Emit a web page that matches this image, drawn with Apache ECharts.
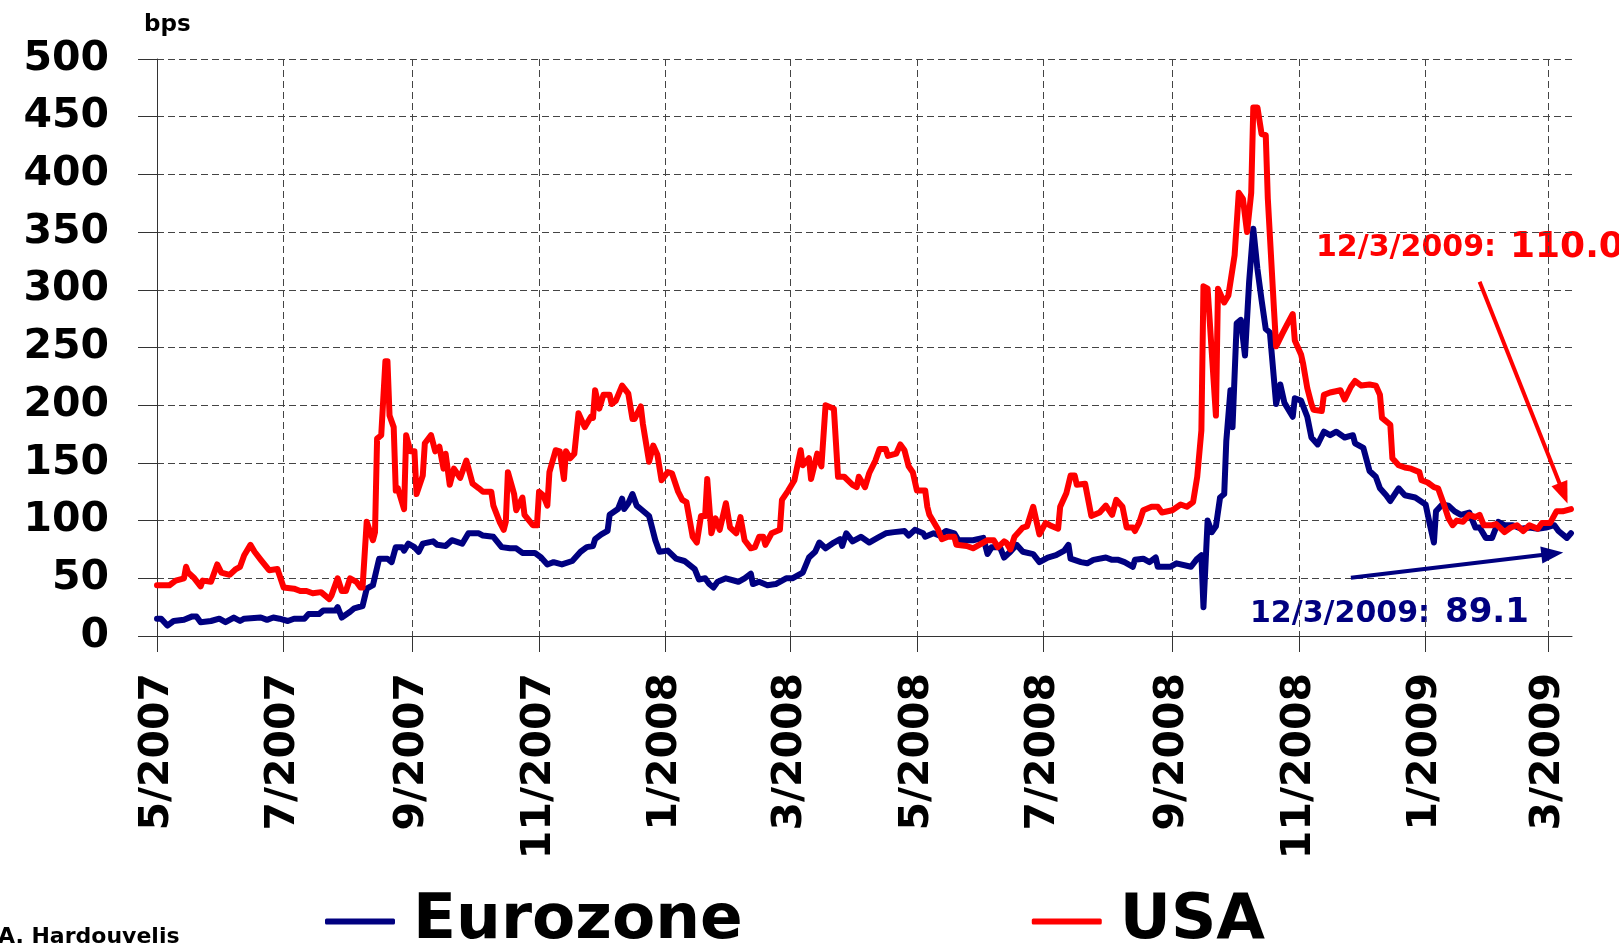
<!DOCTYPE html>
<html>
<head>
<meta charset="utf-8">
<title>Eurozone vs USA spread</title>
<script src="https://cdn.jsdelivr.net/npm/echarts/dist/echarts.min.js"></script>
<style>
  html, body { margin: 0; padding: 0; background: #fff; }
  #chart { width: 1619px; height: 943px; }
</style>
</head>
<body>
<div id="chart"></div>
<script>
// x values are days counted from 1 May 2007
const START = Date.UTC(2007, 4, 1);
const DAY = 86400000;

const tickDates = ['2007-05-01', '2007-07-01', '2007-09-01', '2007-11-01', '2008-01-01', '2008-03-01',
  '2008-05-01', '2008-07-01', '2008-09-01', '2008-11-01', '2009-01-01', '2009-03-01'];
const tickLabels = ['5/2007', '7/2007', '9/2007', '11/2007', '1/2008', '3/2008',
  '5/2008', '7/2008', '9/2008', '11/2008', '1/2009', '3/2009'];

const eurDays = [0, 2, 5, 8, 13, 17, 19, 21, 26, 30, 33, 37, 40, 42, 50, 53, 56, 59, 63, 66, 71, 73, 78, 80, 86, 87, 89, 93, 95, 99,
  101, 104, 107, 111, 113, 115, 118, 119, 121, 124, 126, 128, 133, 135, 139, 142, 147, 150, 155, 157, 162, 166, 170, 173, 176, 182, 185, 188, 191, 195,
  200, 204, 207, 210, 211, 214, 217, 218, 222, 224, 225, 227, 229, 231, 233, 237, 240, 242, 246, 250, 254, 259, 261, 264, 266, 268, 270, 274, 280, 283,
  286, 287, 290, 294, 298, 303, 306, 311, 314, 317, 319, 322, 326, 329, 330, 332, 335, 339, 343, 347, 351, 355, 360, 362, 365, 369, 370, 374, 377, 380,
  384, 386, 393, 398, 400, 402, 406, 408, 411, 414, 417, 422, 425, 429, 433, 437, 439, 440, 445, 448, 451, 457, 460, 463, 466, 470, 471, 475, 478, 481,
  482, 488, 491, 498, 501, 503, 504, 506, 508, 510, 512, 514, 515, 517, 518, 520, 522, 524, 526, 528, 530, 532, 534, 536, 539, 541, 543, 547, 548, 551,
  554, 556, 559, 562, 565, 568, 572, 576, 577, 581, 584, 587, 589, 592, 594, 598, 601, 606, 611, 613, 615, 616, 619, 622, 625, 628, 632, 635, 637, 640,
  643, 646, 649, 653, 657, 661, 665, 669, 673, 675, 679, 681];
const eurValues = [15, 15, 9, 13, 14, 17, 17, 12, 13, 15, 12, 16, 13, 15, 16, 14, 16, 15, 13, 15, 15, 19, 19, 22, 22, 25, 16, 21, 24, 26,
  41, 44, 67, 67, 64, 77, 77, 74, 80, 77, 73, 80, 82, 79, 78, 83, 80, 89, 89, 87, 86, 77, 76, 76, 72, 72, 68, 62, 64, 62,
  65, 73, 77, 78, 84, 88, 91, 105, 110, 119, 110, 115, 123, 113, 110, 104, 83, 73, 74, 67, 65, 58, 49, 50, 45, 42, 47, 50, 47, 50,
  54, 45, 47, 44, 45, 50, 50, 55, 68, 73, 81, 76, 81, 84, 78, 89, 82, 86, 81, 85, 89, 90, 91, 87, 92, 89, 86, 89, 87, 91,
  89, 83, 83, 85, 71, 77, 77, 68, 73, 79, 73, 71, 64, 68, 70, 74, 79, 67, 64, 63, 66, 68, 66, 66, 64, 60, 66, 67, 64, 68,
  60, 60, 63, 60, 67, 70, 25, 100, 90, 95, 120, 123, 169, 213, 181, 271, 274, 243, 307, 353, 318, 291, 266, 263, 201, 218, 202, 190, 206, 204,
  190, 172, 166, 177, 174, 177, 172, 174, 167, 163, 143, 138, 128, 122, 117, 128, 122, 120, 114, 97, 81, 108, 114, 113, 108, 105, 107, 94, 94, 85,
  85, 99, 96, 96, 93, 94, 93, 94, 96, 91, 85, 89.1];

const usaDays = [0, 6, 9, 13, 14, 15, 18, 21, 22, 26, 29, 31, 35, 38, 40, 42, 45, 47, 50, 54, 58, 61, 66, 69, 72, 75, 79, 83, 84, 87,
  89, 91, 93, 96, 98, 99, 101, 104, 105, 106, 108, 110, 111, 112, 114, 115, 116, 119, 120, 122, 124, 125, 128, 129, 132, 134, 136, 138, 139, 141,
  143, 146, 149, 152, 155, 157, 161, 162, 165, 167, 168, 169, 172, 173, 176, 177, 181, 183, 184, 186, 188, 189, 192, 194, 196, 197, 199, 201, 203, 206,
  209, 210, 211, 213, 215, 218, 219, 221, 224, 227, 229, 230, 233, 234, 237, 239, 241, 243, 246, 248, 251, 253, 255, 258, 260, 262, 264, 265, 267, 269,
  271, 274, 276, 279, 281, 283, 286, 288, 290, 292, 293, 296, 300, 301, 304, 307, 310, 311, 314, 315, 318, 320, 322, 326, 328, 331, 335, 337, 338, 341,
  343, 346, 348, 351, 352, 356, 358, 360, 362, 364, 366, 370, 371, 372, 376, 378, 381, 384, 385, 390, 393, 396, 400, 403, 405, 408, 409, 411, 413, 417,
  419, 422, 425, 428, 430, 434, 435, 438, 440, 442, 443, 447, 450, 454, 457, 460, 462, 465, 467, 470, 471, 473, 475, 479, 482, 484, 489, 493, 496, 499,
  501, 503, 504, 506, 510, 511, 514, 516, 519, 521, 523, 525, 527, 528, 530, 532, 534, 535, 538, 539, 542, 544, 547, 548, 551, 552, 554, 556, 557, 561,
  562, 565, 570, 572, 575, 577, 580, 584, 587, 589, 590, 594, 595, 598, 601, 604, 608, 609, 612, 615, 617, 620, 622, 624, 626, 629, 632, 635, 637, 639,
  643, 645, 649, 652, 655, 658, 661, 665, 667, 671, 674, 677, 681];
const usaValues = [44, 44, 48, 50, 60, 55, 50, 43, 48, 47, 62, 55, 53, 58, 60, 70, 79, 73, 66, 57, 58, 42, 41, 39, 39, 37, 38, 32, 35, 50,
  39, 39, 50, 47, 42, 42, 99, 83, 90, 171, 174, 238, 238, 191, 181, 126, 128, 110, 174, 160, 160, 123, 139, 167, 174, 160, 164, 145, 158, 131,
  145, 137, 152, 132, 128, 125, 125, 113, 99, 92, 99, 142, 123, 109, 120, 105, 96, 96, 125, 122, 113, 142, 161, 160, 136, 160, 154, 158, 193, 181,
  190, 189, 213, 197, 209, 209, 201, 204, 217, 210, 188, 188, 199, 184, 151, 165, 157, 135, 142, 141, 125, 118, 116, 86, 81, 104, 104, 136, 89, 102,
  92, 115, 94, 89, 103, 83, 76, 77, 86, 86, 79, 89, 92, 118, 126, 135, 161, 148, 154, 136, 158, 147, 200, 197, 138, 138, 131, 129, 138, 129,
  141, 152, 162, 162, 156, 158, 166, 161, 147, 142, 126, 126, 112, 105, 93, 84, 86, 86, 79, 78, 76, 79, 83, 83, 77, 82, 81, 75, 86, 94,
  95, 112, 88, 98, 96, 93, 112, 124, 139, 139, 131, 132, 104, 107, 113, 105, 118, 112, 94, 94, 91, 98, 109, 112, 112, 107, 109, 114, 112, 116,
  138, 178, 303, 301, 191, 301, 289, 295, 330, 384, 379, 350, 384, 458, 458, 435, 434, 379, 282, 251, 262, 269, 279, 256, 244, 236, 215, 201, 196, 195,
  209, 211, 213, 205, 216, 221, 217, 218, 217, 209, 189, 183, 154, 148, 146, 145, 142, 135, 133, 129, 128, 113, 102, 96, 100, 99, 105, 103, 105, 96,
  96, 97, 90, 94, 96, 91, 96, 93, 98, 98, 108, 108, 110.0];

const FONT = '"DejaVu Sans", Verdana, sans-serif';
const NAVY = '#000080';
const RED = '#ff0000';

const toTs = (d) => START + d * DAY;
const tickTs = tickDates.map((s) => Date.parse(s + 'T00:00:00Z'));

const pairs = (days, values) => days.map((d, i) => [toTs(d), values[i]]);

const chart = echarts.init(document.getElementById('chart'));

chart.setOption({
  animation: false,
  backgroundColor: '#fff',
  grid: { left: 157, right: 47, top: 59, bottom: 307 },
  legend: {
    left: 325,
    top: 890,
    padding: 0,
    itemGap: 289,
    itemWidth: 70,
    itemHeight: 6,
    icon: 'roundRect',
    textStyle: { fontFamily: FONT, fontWeight: 'bold', fontSize: 63, color: '#000', padding: [16, 0, 0, 13] },
    data: ['Eurozone', 'USA']
  },
  xAxis: {
    type: 'value',
    min: START,
    max: toTs(681.5),
    axisLine: { show: true, lineStyle: { color: '#333', width: 1 } },
    axisTick: { show: true, length: 16, customValues: tickTs, lineStyle: { color: '#333' } },
    axisLabel: {
      customValues: tickTs,
      rotate: 90,
      margin: 37,
      fontFamily: FONT,
      fontWeight: 'bold',
      fontSize: 41,
      color: '#000',
      formatter: (v) => tickLabels[tickTs.indexOf(v)]
    },
    splitLine: { show: true, lineStyle: { color: '#444', width: 1, type: [7, 4] } }
  },
  yAxis: {
    type: 'value',
    min: 0,
    max: 500,
    interval: 50,
    axisLine: { show: true, lineStyle: { color: '#333', width: 1 } },
    axisTick: { show: true, length: 19, lineStyle: { color: '#333' } },
    axisLabel: { margin: 48, fontFamily: FONT, fontWeight: 'bold', fontSize: 41, color: '#000' },
    splitLine: { show: true, lineStyle: { color: '#444', width: 1, type: [7, 4] } }
  },
  series: [
    {
      name: 'Eurozone',
      type: 'line',
      data: pairs(eurDays, eurValues),
      showSymbol: false,
      symbol: 'none',
      itemStyle: { color: NAVY },
      lineStyle: { color: NAVY, width: 6, join: 'round', cap: 'round' },
      markLine: {
        silent: true,
        animation: false,
        symbol: ['none', 'triangle'],
        symbolSize: [17, 22],
        label: { show: false },
        lineStyle: { color: NAVY, width: 4, type: 'solid' },
        data: [[{ coord: [toTs(575), 50.5] }, { coord: [toTs(672), 71.3] }]]
      }
    },
    {
      name: 'USA',
      type: 'line',
      data: pairs(usaDays, usaValues),
      showSymbol: false,
      symbol: 'none',
      itemStyle: { color: RED },
      lineStyle: { color: RED, width: 6, join: 'round', cap: 'round' },
      markLine: {
        silent: true,
        animation: false,
        symbol: ['none', 'triangle'],
        symbolSize: [17, 22],
        label: { show: false },
        lineStyle: { color: RED, width: 4, type: 'solid' },
        data: [[{ coord: [toTs(637), 307] }, { coord: [toTs(677.4), 123.7] }]]
      }
    }
  ],
  graphic: [
    { type: 'text', x: 144, y: 25.5, style: { text: 'bps', font: 'bold 23px ' + FONT, fill: '#000', align: 'left', verticalAlign: 'middle' } },
    { type: 'text', x: 1316, y: 248, style: { text: '12/3/2009:', font: 'bold 30px ' + FONT, fill: RED, align: 'left', verticalAlign: 'middle' } },
    { type: 'text', x: 1510, y: 247.5, style: { text: '110.0', font: 'bold 36px ' + FONT, fill: RED, align: 'left', verticalAlign: 'middle' } },
    { type: 'text', x: 1250, y: 614.4, style: { text: '12/3/2009:', font: 'bold 30px ' + FONT, fill: NAVY, align: 'left', verticalAlign: 'middle' } },
    { type: 'text', x: 1445, y: 613, style: { text: '89.1', font: 'bold 34px ' + FONT, fill: NAVY, align: 'left', verticalAlign: 'middle' } },
    { type: 'text', x: -2, y: 937, style: { text: 'A. Hardouvelis', font: 'bold 22px ' + FONT, fill: '#000', align: 'left', verticalAlign: 'middle' } }
  ]
});
</script>
</body>
</html>
